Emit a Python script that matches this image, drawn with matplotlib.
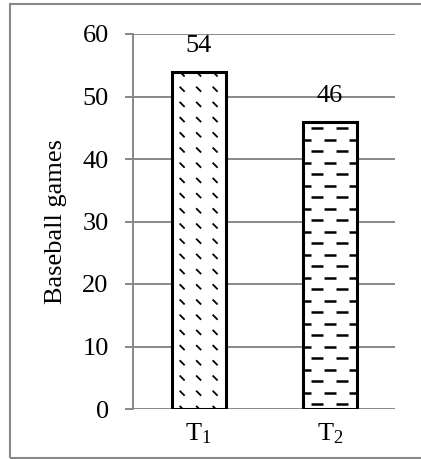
import matplotlib
matplotlib.use('Agg')
import matplotlib.pyplot as plt
from matplotlib.collections import LineCollection
from matplotlib.patches import Rectangle
from matplotlib.transforms import IdentityTransform
import numpy as np

# data
categories = [r'$\mathrm{T}_{\mathrm{1}}$', r'$\mathrm{T}_{\mathrm{2}}$']
games = [54, 46]
y_ticks = [0, 10, 20, 30, 40, 50, 60]

plt.rcParams['font.family'] = 'Liberation Serif'
plt.rcParams['mathtext.fontset'] = 'custom'
plt.rcParams['mathtext.rm'] = 'Liberation Serif'
plt.rcParams['mathtext.it'] = 'Liberation Serif:italic'

GRAY = '#888888'
DPI = 100
W, H = 421, 459

fig = plt.figure(figsize=(W / DPI, H / DPI), dpi=DPI)
ax = fig.add_axes([133 / W, 50 / H, 262.5 / W, 375 / H])

x = np.arange(len(games))
bars = ax.bar(x, games, width=0.41, color='white', edgecolor='black',
              linewidth=2.2, zorder=3)

ax.set_xlim(-0.5, 1.5)
ax.set_ylim(0, 60)
ax.set_yticks(y_ticks)
ax.set_xticks(x)
ax.set_xticklabels(categories)
ax.set_ylabel('Baseball games', fontsize=19, labelpad=11)

ax.grid(axis='y', color=GRAY, linewidth=1.4, zorder=0)
ax.tick_params(axis='y', direction='out', length=5.5, width=1.4, color=GRAY,
               labelsize=19, pad=12)
ax.tick_params(axis='x', length=0, labelsize=19, pad=9)
for s in ['top', 'right', 'bottom']:
    ax.spines[s].set_visible(False)
ax.spines['left'].set_color(GRAY)
ax.spines['left'].set_linewidth(1.4)

# value labels
for b, v in zip(bars, games):
    ax.annotate(str(v), (b.get_x() + b.get_width() / 2, v),
                xytext=(0, 10.5), textcoords='offset points',
                ha='center', va='bottom', fontsize=19)

# fill patterns (drawn in pixel space, clipped to the bars)
def pattern_diag(bar):
    bb = bar.get_window_extent()
    cx = (bb.x0 + bb.x1) / 2
    segs = []
    ys = np.arange(bb.y1 - 2.5, bb.y0 - 8, -15.2)
    xs = cx + np.arange(-4, 5) * 16.5
    for yy in ys:
        for xx in xs:
            segs.append([(xx - 2.5, yy + 2.5), (xx + 2.5, yy - 2.5)])
    lc = LineCollection(segs, colors='black', linewidths=1.3,
                        transform=IdentityTransform(), zorder=4)
    ax.add_collection(lc)
    lc.set_clip_path(bar)

def pattern_dash(bar):
    bb = bar.get_window_extent()
    cx = (bb.x0 + bb.x1) / 2
    segs = []
    ys = np.arange(bb.y1 - 6.5, bb.y0 - 8, -11.5)
    for i, yy in enumerate(ys):
        off = 12.5 if i % 2 == 0 else 0
        for xx in cx + off + np.arange(-4, 5) * 25:
            segs.append([(xx - 6, yy), (xx + 6, yy)])
    lc = LineCollection(segs, colors='black', linewidths=1.8,
                        transform=IdentityTransform(), zorder=4)
    ax.add_collection(lc)
    lc.set_clip_path(bar)

pattern_diag(bars[0])
pattern_dash(bars[1])

# outer frame (right side runs off the image)
fig.add_artist(Rectangle((10 / W, 1.5 / H), 440 / W, 453.5 / H,
                         transform=fig.transFigure, fill=False,
                         edgecolor=GRAY, linewidth=1.5))

fig.savefig('out.png', dpi=DPI)
